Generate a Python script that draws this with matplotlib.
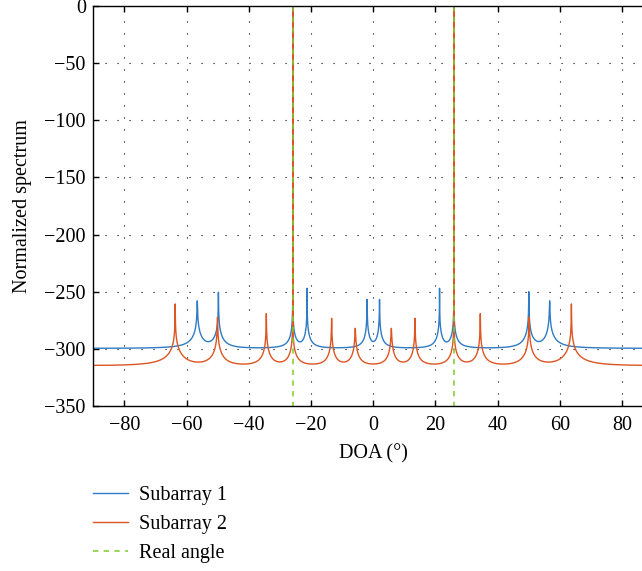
import numpy as np
import matplotlib
matplotlib.use("Agg")
import matplotlib.pyplot as plt

plt.rcParams['font.family'] = ['Liberation Serif', 'DejaVu Serif']
plt.rcParams['font.size'] = 14.5

# peak positions (deg) and heights (dB)
sub1_doa = [-56.6, -49.8, -25.9, -21.3, -2.0, 2.0, 21.3, 25.9, 50.0, 56.7]
sub1_db = [-258, -250.5, 0, -247, -256.7, -256.7, -247, 0, -250, -258]
sub1_floor = -300

sub2_doa = [-63.7, -50.1, -34.4, -25.9, -13.4, -5.8, 5.8, 13.4, 25.9, 34.4, 50.1, 63.7]
sub2_db = [-260.7, -272.4, -269.2, 0, -273.3, -282, -282, -273.3, 0, -269.2, -272.4, -260.7]
sub2_floor = -316

real_doa = [-25.9, 25.9]

xticks = [-80, -60, -40, -20, 0, 20, 40, 60, 80]
yticks = [0, -50, -100, -150, -200, -250, -300, -350]


def spectrum(theta, doas, heights, floor, curv):
    # MUSIC-like shape: 1 / (c (u-uk)^2 + eps) on top of a noise floor
    u = np.sin(np.radians(theta))
    p = np.full_like(theta, 10 ** (floor / 10))
    k = curv / np.radians(1) ** 2
    for d, h in zip(doas, heights):
        uk = np.sin(np.radians(d))
        p += 1.0 / (k * (u - uk) ** 2 + 10 ** (-h / 10))
    db = 10 * np.log10(p)
    return db - db.max()


theta = np.unique(np.concatenate([np.linspace(-90, 90, 360001), sub1_doa, sub2_doa]))
s1 = spectrum(theta, sub1_doa, sub1_db, sub1_floor, 1.5e29)
s2 = spectrum(theta, sub2_doa, sub2_db, sub2_floor, 3.5e30)

fig = plt.figure(figsize=(6.42, 5.71), dpi=100)
ax = fig.add_axes([93.4 / 642, 1 - 406 / 571, 559.8 / 642, 400 / 571])

ax.plot(theta, s1, color='#2f7bc4', lw=1.0, label='Subarray 1')
ax.plot(theta, s2, color='#dd5522', lw=1.0, label='Subarray 2')
for i, r in enumerate(real_doa):
    ax.plot([r, r], [0, -350], color='#80cc28', lw=1.1, ls=(0, (3.5, 3.5)),
            label='Real angle' if i == 0 else None)

ax.set_xlim(-90, 90)
ax.set_ylim(-350, 0)
ax.set_xticks(xticks)
ax.set_yticks(yticks)
ax.tick_params(direction='in', length=4, width=1, top=True, right=False)
ax.tick_params(axis='x', pad=7.5)
ax.tick_params(axis='y', pad=5.5)
ax.spines['right'].set_visible(False)
for s in ['left', 'bottom', 'top']:
    ax.spines[s].set_linewidth(1.0)
ax.grid(True, color='black', lw=0.8, ls=(0, (1, 9.8)))
ax.set_axisbelow(True)

ax.set_xlabel('DOA (°)', labelpad=6.5)
ax.set_ylabel('Normalized spectrum', labelpad=9)

fig.legend(loc='upper left', bbox_to_anchor=(85 / 642, 1 - 478 / 571),
           frameon=False, handlelength=1.75, handletextpad=0.55, labelspacing=0.5,
           borderaxespad=0)

fig.savefig('out.png', dpi=100)
